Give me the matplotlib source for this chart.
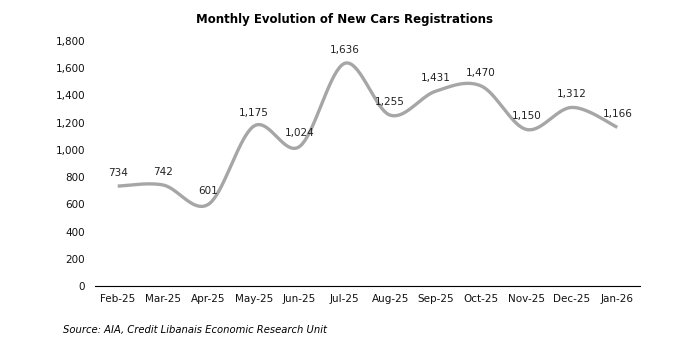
import numpy as np
import matplotlib
matplotlib.use("Agg")
import matplotlib.pyplot as plt
from matplotlib.ticker import FuncFormatter

months = ["Feb-25", "Mar-25", "Apr-25", "May-25", "Jun-25", "Jul-25",
          "Aug-25", "Sep-25", "Oct-25", "Nov-25", "Dec-25", "Jan-26"]
registrations = [734, 742, 601, 1175, 1024, 1636, 1255, 1431, 1470, 1150, 1312, 1166]
yticks = [0, 200, 400, 600, 800, 1000, 1200, 1400, 1600, 1800]

title = "Monthly Evolution of New Cars Registrations"
source = "Source: AIA, Credit Libanais Economic Research Unit"


def smooth(x, y, n=40):
    # Excel-like smoothing: cubic Bezier with Catmull-Rom control points
    x = np.asarray(x, float)
    y = np.asarray(y, float)
    px, py = [], []
    m = len(x)
    for i in range(m - 1):
        x0, y0 = (x[i - 1], y[i - 1]) if i > 0 else (x[i], y[i])
        x3, y3 = (x[i + 2], y[i + 2]) if i + 2 < m else (x[i + 1], y[i + 1])
        c1x = x[i] + (x[i + 1] - x0) / 6
        c1y = y[i] + (y[i + 1] - y0) / 6
        c2x = x[i + 1] - (x3 - x[i]) / 6
        c2y = y[i + 1] - (y3 - y[i]) / 6
        t = np.linspace(0, 1, n)
        bx = (1 - t) ** 3 * x[i] + 3 * (1 - t) ** 2 * t * c1x + 3 * (1 - t) * t ** 2 * c2x + t ** 3 * x[i + 1]
        by = (1 - t) ** 3 * y[i] + 3 * (1 - t) ** 2 * t * c1y + 3 * (1 - t) * t ** 2 * c2y + t ** 3 * y[i + 1]
        px.extend(bx)
        py.extend(by)
    return np.array(px), np.array(py)


fig = plt.figure(figsize=(6.9, 3.62), dpi=100)
ax = fig.add_axes([95 / 690, 1 - 286 / 362, 545 / 690, 245 / 362])

xs = np.arange(len(months))
sx, sy = smooth(xs, registrations)
ax.plot(sx, sy, color="#a6a6a6", lw=2.4, solid_capstyle="butt")

for xi, v in zip(xs, registrations):
    ax.annotate(f"{v:,}", (xi, v), xytext=(0, 9.5), textcoords="offset points",
                ha="center", va="center", fontsize=7.5, color="#222222")

ax.set_xlim(-0.5, len(months) - 0.5)
ax.set_ylim(0, 1800)
ax.set_yticks(yticks)
ax.yaxis.set_major_formatter(FuncFormatter(lambda v, p: f"{int(v):,}"))
ax.set_xticks(xs)
ax.set_xticklabels(months)
ax.tick_params(axis="both", length=0, labelsize=7.5, colors="#111111")
ax.tick_params(axis="y", pad=7)
ax.tick_params(axis="x", pad=6)
for s in ["top", "right", "left"]:
    ax.spines[s].set_visible(False)
ax.spines["bottom"].set_color("#000000")
ax.spines["bottom"].set_linewidth(0.8)

fig.text(0.5, 1 - 19 / 362, title, ha="center", va="center", fontsize=8.5, fontweight="bold")
fig.text(63 / 690, 1 - 330 / 362, source, ha="left", va="center", fontsize=7.2, style="italic")

fig.savefig("out.png", dpi=100)
